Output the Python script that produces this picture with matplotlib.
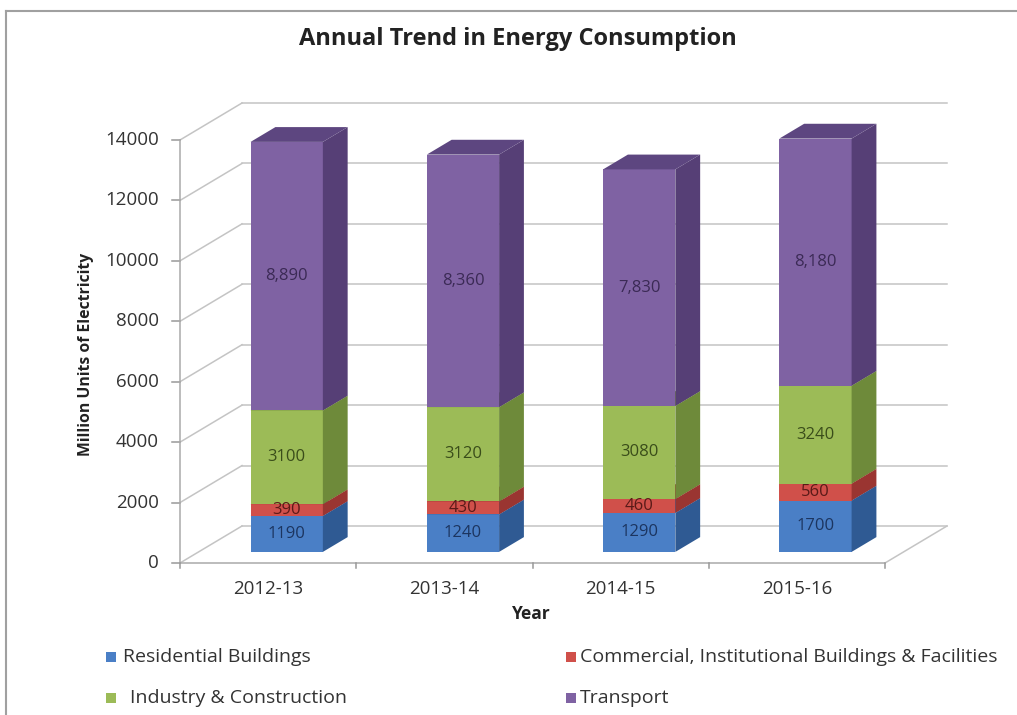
import matplotlib.pyplot as plt
from matplotlib.patches import Polygon, Rectangle

# data
years = ["2012-13", "2013-14", "2014-15", "2015-16"]
series = ["Residential Buildings",
          "Commercial, Institutional Buildings & Facilities",
          "Industry & Construction",
          "Transport"]
residential = [1190, 1240, 1290, 1700]
commercial = [390, 430, 460, 560]
industry = [3100, 3120, 3080, 3240]
transport = [8890, 8360, 7830, 8180]

face_colors = ["#4a7fc6", "#d0504a", "#9cbb57", "#7f62a3"]
side_colors = ["#2f5a93", "#9a3531", "#6e8a3a", "#563f76"]
top_colors = ["#3a6aa8", "#a83c38", "#7e9c45", "#5d4680"]
label_colors = ["#1c3560", "#5a1a18", "#3a4d1a", "#3b2a55"]

plt.rcParams['font.family'] = ['Open Sans', 'DejaVu Sans']

W, H = 1017, 715
fig = plt.figure(figsize=(W / 100, H / 100), dpi=100)

# front plane of the 3D box in pixels
x0, x1 = 180, 885
y0, y1 = 563, 140
ax = fig.add_axes([x0 / W, 1 - y0 / H, (x1 - x0) / W, (y0 - y1) / H])
ymax = 14000
n = len(years)
ax.set_xlim(0, n)
ax.set_ylim(0, ymax)
ax.axis('off')

# depth of the box in data units
DX = 62 / (x1 - x0) * n
DY = 37 / (y0 - y1) * ymax
grid_c = "#c4c4c4"

# back wall, side wall and floor lines
for v in range(0, ymax + 1, 2000):
    ax.plot([DX, n + DX], [v + DY, v + DY], color=grid_c, lw=1.1, clip_on=False, zorder=1)
    ax.plot([0, DX], [v, v + DY], color=grid_c, lw=1.1, clip_on=False, zorder=1)
    ax.plot([-0.045, 0], [v, v], color="#999999", lw=1.1, clip_on=False, zorder=1)
    ax.text(-0.12, v, str(v), ha='right', va='center', fontsize=13.5, color="#333333")
ax.plot([0, 0], [0, ymax], color="#aaaaaa", lw=1.1, clip_on=False, zorder=1)
ax.plot([0, n], [0, 0], color="#aaaaaa", lw=1.1, clip_on=False, zorder=1)
ax.plot([n, n + DX], [0, DY], color=grid_c, lw=1.1, clip_on=False, zorder=1)
for i in range(n + 1):
    ax.plot([i, i], [0, -170], color="#999999", lw=1.1, clip_on=False, zorder=1)
for i, yr in enumerate(years):
    ax.text(i + 0.5, -860, yr, ha='center', va='center', fontsize=13.5, color="#333333")

# stacked 3D bars
f0, f1 = 0.3, 0.7
bw = 0.41
stack = [residential, commercial, industry, transport]
for i in range(n):
    base = 0
    for k, vals in enumerate(stack):
        v = vals[i]
        xl = i + 0.5 - bw / 2 + f0 * DX
        xr = xl + bw
        yb = base + f0 * DY
        yt = base + v + f0 * DY
        ddx = (f1 - f0) * DX
        ddy = (f1 - f0) * DY
        ax.add_patch(Rectangle((xl, yb), bw, v, facecolor=face_colors[k],
                               edgecolor='none', clip_on=False, zorder=3))
        ax.add_patch(Polygon([(xr, yb), (xr + ddx, yb + ddy), (xr + ddx, yt + ddy), (xr, yt)],
                             facecolor=side_colors[k], edgecolor='none', clip_on=False, zorder=3))
        ax.add_patch(Polygon([(xl, yt), (xr, yt), (xr + ddx, yt + ddy), (xl + ddx, yt + ddy)],
                             facecolor=top_colors[k], edgecolor='none', clip_on=False, zorder=3))
        txt = f"{v:,}" if k == 3 else str(v)
        ax.text(xl + bw / 2, yb + v / 2, txt, ha='center', va='center', fontsize=12,
                color=label_colors[k], zorder=4)
        base += v

# titles
fig.text(518 / W, 1 - 39 / H, "Annual Trend in Energy Consumption", ha='center', va='center',
         fontsize=17, fontweight='bold', color="#222222")
fig.text(86 / W, 1 - 354 / H, "Million Units of Electricity", ha='center', va='center',
         rotation=90, fontsize=11.3, fontweight='bold', color="#222222")
fig.text(531 / W, 1 - 614 / H, "Year", ha='center', va='center',
         fontsize=12.5, fontweight='bold', color="#222222")

# legend
leg_sq = [(106, 657), (566, 657), (106, 698), (566, 698)]
leg_tx = [123, 580, 130, 580]
for k, name in enumerate(series):
    lx, ly = leg_sq[k]
    fig.patches.append(Rectangle((lx / W, 1 - (ly + 5) / H), 10 / W, 10 / H,
                                 transform=fig.transFigure, facecolor=face_colors[k],
                                 edgecolor='none'))
    fig.text(leg_tx[k] / W, 1 - ly / H, name, ha='left', va='center', fontsize=14,
             color="#333333")

# chart border
fig.add_artist(plt.Line2D([6 / W, 6 / W], [0, 1 - 11 / H], transform=fig.transFigure,
                          color="#a0a0a0", lw=1.5))
fig.add_artist(plt.Line2D([6 / W, 1], [1 - 11 / H, 1 - 11 / H], transform=fig.transFigure,
                          color="#a0a0a0", lw=1.5))

fig.savefig("out.png", dpi=100)
